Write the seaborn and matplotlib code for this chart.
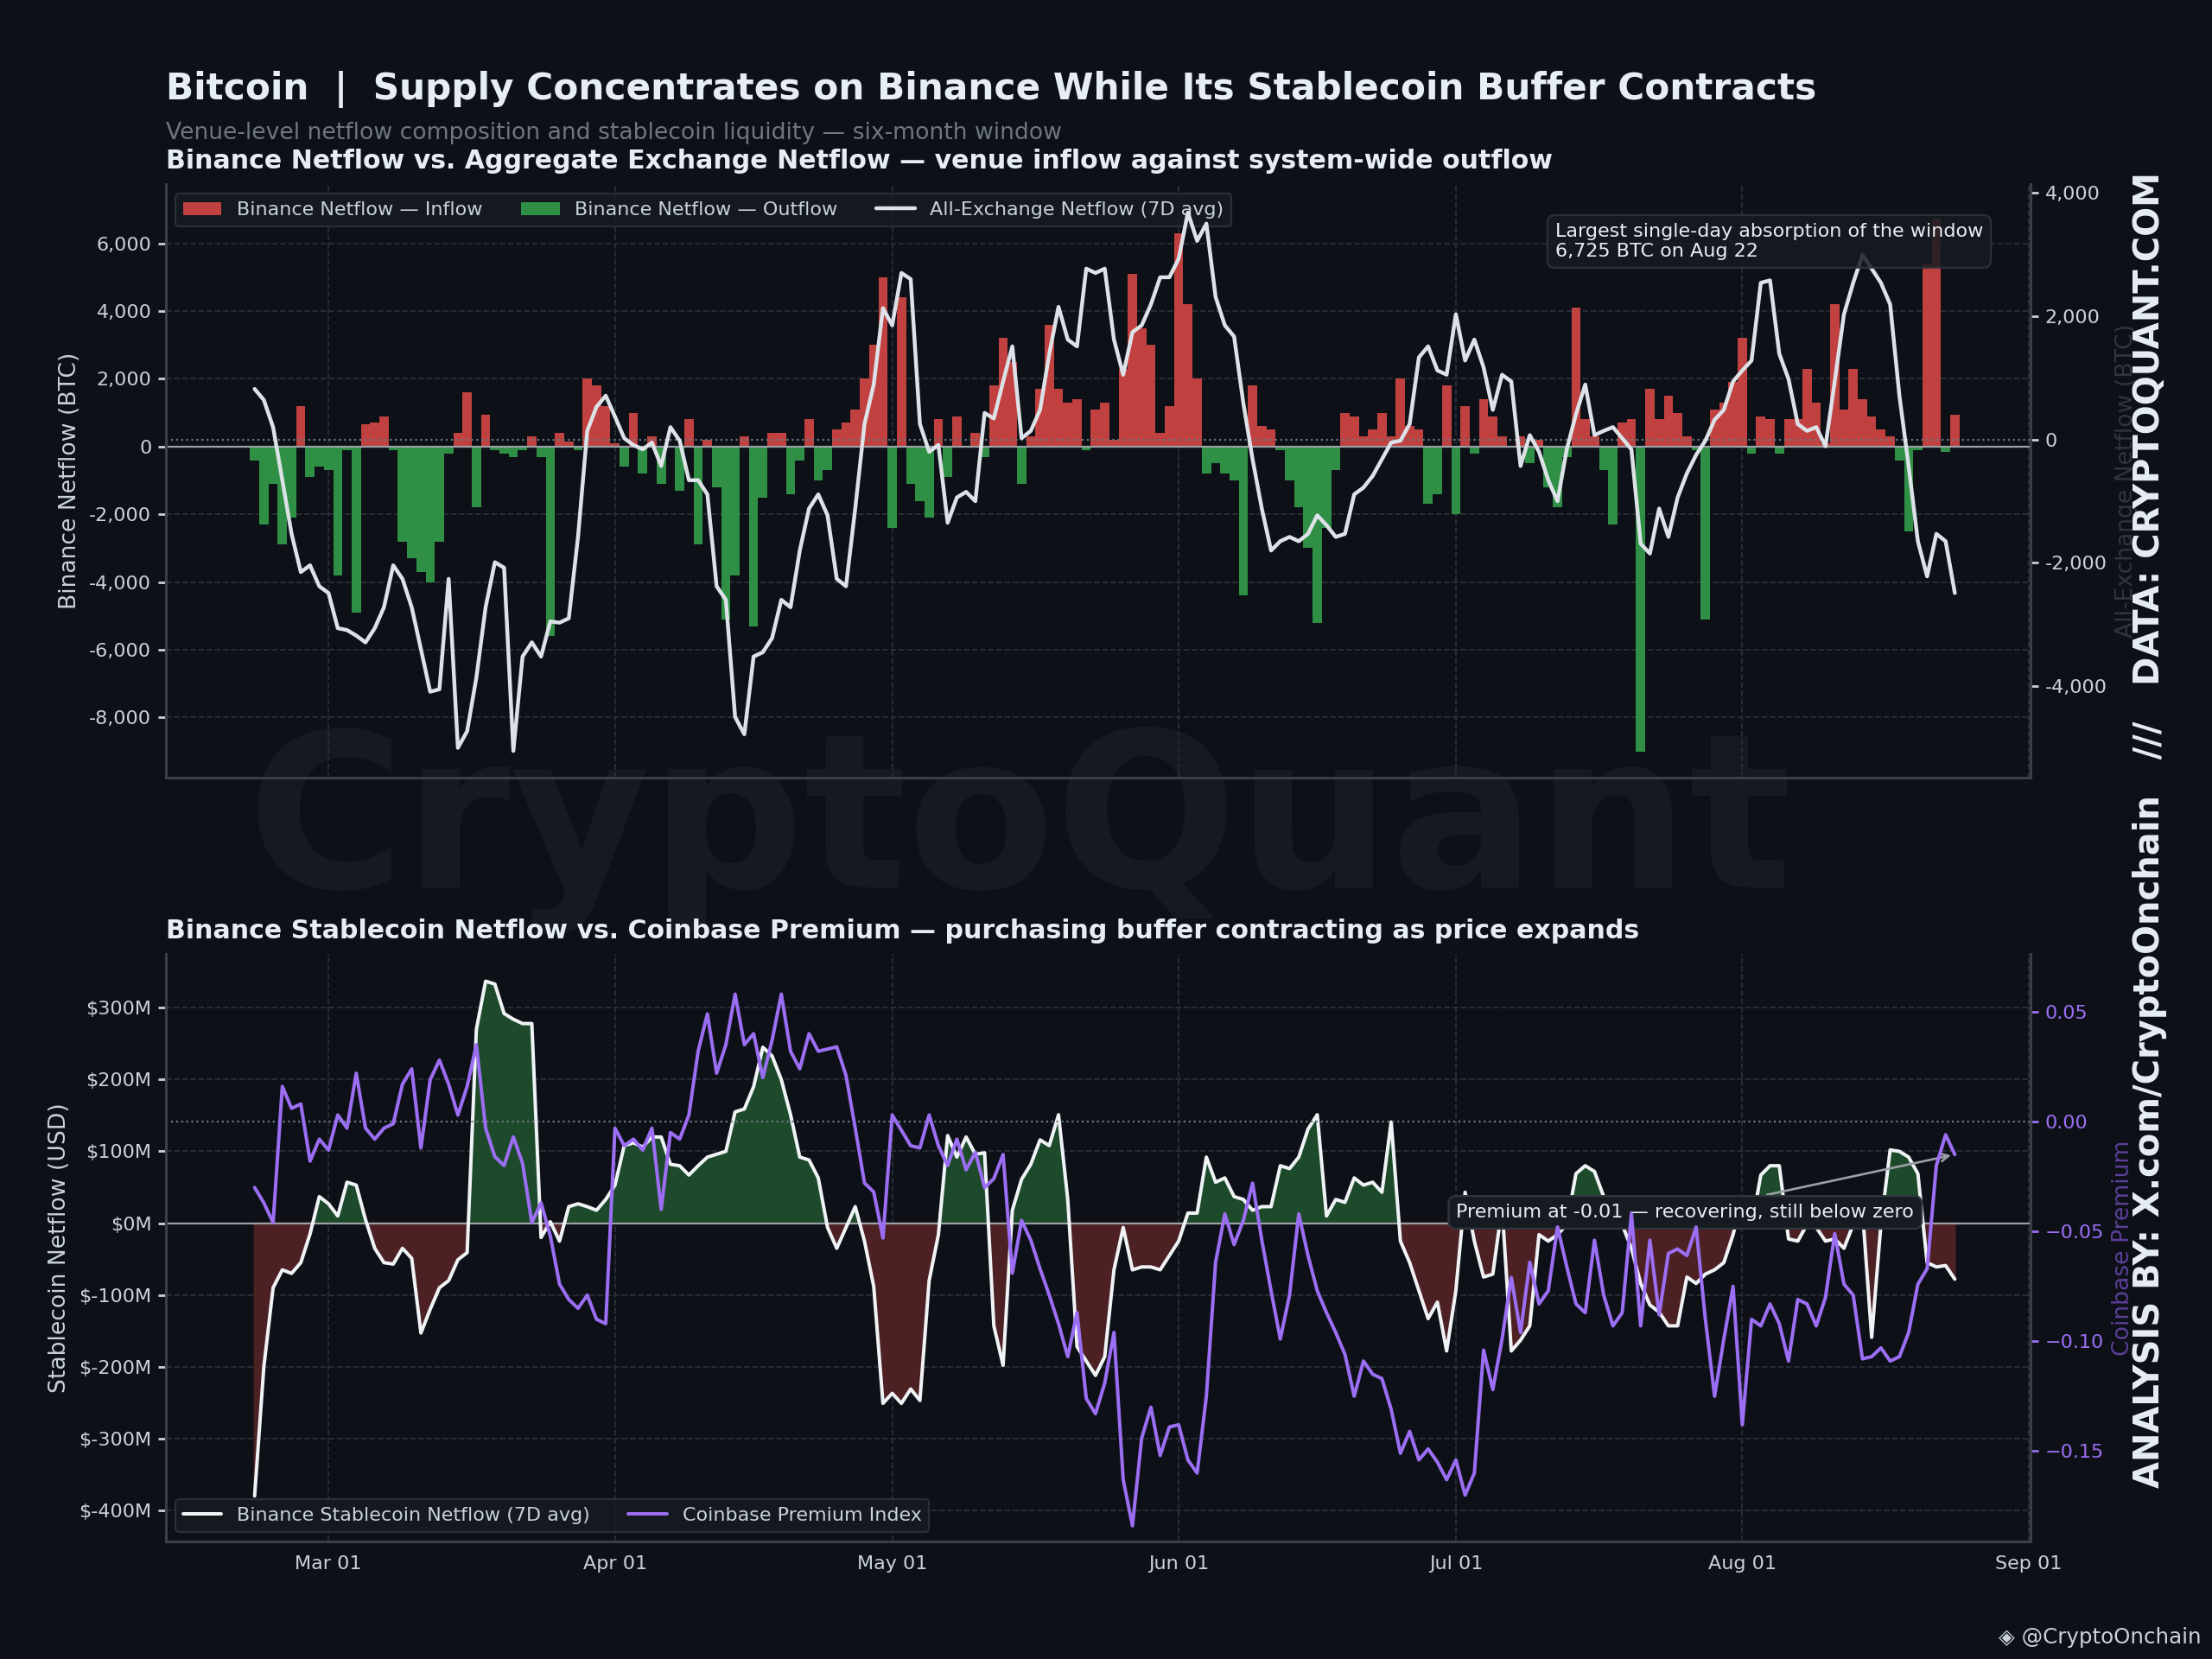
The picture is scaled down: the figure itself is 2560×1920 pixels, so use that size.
import numpy as np, pandas as pd, matplotlib
matplotlib.use("Agg")
import matplotlib.pyplot as plt, matplotlib.dates as mdates
import seaborn as sns

binance_netflow = [-400,-2300,-1100,-2900,-2100,1200,-900,-600,-700,-3800,-100,-4900,650,700,900,-100,-2800,-3300,-3700,-4000,
 -2800,-200,400,1600,-1800,950,-100,-200,-300,-100,300,-300,-5600,400,150,-100,2000,1800,1200,100,
 -600,1000,-800,300,-1100,0,-1300,800,-2900,200,-1200,-5100,-3800,300,-5300,-1500,400,400,-1400,-400,
 800,-1000,-700,500,700,1100,2000,3000,5000,-2400,4400,-1100,-1600,-2100,800,-900,900,0,400,-300,
 1800,3200,2500,-1100,300,1700,3600,1700,1300,1400,-100,1100,1300,200,2300,5100,3500,3000,400,1200,
 6300,4200,2000,-800,-500,-800,-1000,-4400,1800,600,500,-100,-1000,-1800,-3000,-5200,-2400,-700,1000,900,
 300,500,1000,300,2000,600,500,-1700,-1400,1800,-2000,1200,-200,1400,900,300,0,300,-500,200,
 -1200,-1800,-300,4100,800,300,-700,-2300,700,800,-9000,1700,800,1500,1000,300,-100,-5100,1100,1300,
 1900,3200,-200,900,800,-200,800,800,2300,1300,100,4200,1100,2300,1400,900,500,300,-400,-2500,
 -100,5400,6725,-150,950]
all_exchange_7d = [820,640,200,-660,-1530,-2150,-2040,-2380,-2490,-3060,-3090,-3180,-3290,-3060,-2720,-2040,-2260,-2720,-3400,-4090,
 -4050,-2260,-5000,-4730,-3860,-2720,-1990,-2080,-5050,-3520,-3290,-3520,-2950,-2970,-2900,-1580,140,530,710,370,
 20,-90,-160,-50,-430,200,-20,-660,-660,-890,-2380,-2600,-4500,-4780,-3520,-3450,-3220,-2600,-2720,-1800,
 -1120,-890,-1230,-2260,-2380,-1120,250,890,2130,1850,2700,2600,250,-200,-90,-1350,-940,-850,-1000,430,
 340,940,1510,20,140,480,1390,2150,1620,1510,2770,2700,2770,1620,1050,1740,1850,2190,2630,2630,
 2930,3680,3220,3500,2310,1850,1670,590,-320,-1120,-1800,-1650,-1580,-1650,-1530,-1230,-1390,-1580,-1530,-890,
 -780,-590,-320,-50,-20,250,1330,1510,1120,1050,2030,1280,1620,1170,480,1050,940,-430,70,-200,
 -660,-1000,-160,410,890,70,140,200,20,-160,-1690,-1850,-1120,-1580,-940,-550,-250,-20,320,480,
 940,1120,1280,2540,2580,1390,980,250,140,200,-110,940,2030,2540,2990,2770,2540,2190,710,-430,
 -1650,-2220,-1530,-1650,-2490]
stablecoin_7d = [-380,-200,-90,-65,-70,-55,-15,37,27,10,57,53,5,-35,-55,-57,-35,-49,-153,-120,
 -90,-80,-51,-41,270,337,333,292,284,278,278,-20,2,-25,23,27,23,18,33,53,
 108,112,106,120,120,82,80,67,80,92,96,100,155,159,190,245,233,200,151,92,
 88,63,-6,-35,-6,23,-25,-88,-251,-237,-251,-231,-247,-80,-16,122,92,120,96,98,
 -143,-198,18,61,82,116,108,151,33,-172,-192,-212,-186,-65,-6,-65,-61,-61,-65,-45,
 -25,14,14,92,57,63,37,33,18,23,23,80,76,92,131,151,10,33,29,63,
 53,57,43,141,-25,-55,-94,-133,-110,-178,-94,43,-25,-75,-71,23,-178,-163,-143,-16,
 -25,-16,-2,69,80,72,37,22,-2,-35,-84,-114,-124,-143,-143,-75,-84,-71,-65,-55,
 -16,33,-6,67,80,80,-22,-25,-2,-6,-25,-22,-35,-2,18,-159,-2,102,100,92,
 69,-55,-61,-59,-78]
coinbase_premium = [-0.030,-0.037,-0.046,0.016,0.006,0.008,-0.018,-0.008,-0.013,0.003,-0.003,0.022,-0.003,-0.008,-0.003,-0.001,0.017,0.024,-0.012,0.019,
 0.028,0.017,0.003,0.016,0.035,-0.003,-0.016,-0.020,-0.007,-0.019,-0.046,-0.037,-0.052,-0.074,-0.081,-0.085,-0.079,-0.090,-0.092,-0.003,
 -0.011,-0.008,-0.013,-0.003,-0.040,-0.005,-0.008,0.003,0.032,0.049,0.022,0.035,0.058,0.035,0.040,0.020,0.037,0.058,0.032,0.024,
 0.040,0.032,0.033,0.034,0.021,-0.003,-0.028,-0.032,-0.053,0.003,-0.004,-0.011,-0.012,0.003,-0.011,-0.020,-0.008,-0.022,-0.014,-0.030,
 -0.026,-0.015,-0.069,-0.045,-0.054,-0.067,-0.079,-0.092,-0.107,-0.087,-0.126,-0.133,-0.119,-0.096,-0.163,-0.184,-0.144,-0.130,-0.152,-0.139,
 -0.138,-0.154,-0.160,-0.125,-0.064,-0.042,-0.056,-0.045,-0.028,-0.054,-0.077,-0.099,-0.079,-0.042,-0.061,-0.077,-0.087,-0.096,-0.106,-0.125,
 -0.109,-0.115,-0.117,-0.131,-0.151,-0.141,-0.154,-0.149,-0.155,-0.163,-0.154,-0.170,-0.160,-0.104,-0.122,-0.099,-0.071,-0.096,-0.064,-0.083,
 -0.077,-0.048,-0.066,-0.083,-0.087,-0.054,-0.079,-0.093,-0.087,-0.042,-0.093,-0.054,-0.088,-0.060,-0.058,-0.061,-0.048,-0.090,-0.125,-0.099,
 -0.075,-0.138,-0.090,-0.093,-0.083,-0.092,-0.109,-0.081,-0.083,-0.093,-0.080,-0.051,-0.074,-0.079,-0.108,-0.107,-0.103,-0.109,-0.107,-0.096,
 -0.074,-0.067,-0.020,-0.006,-0.015]

N = min(len(binance_netflow), len(all_exchange_7d), len(stablecoin_7d), len(coinbase_premium))
dates = pd.date_range("2025-02-21", periods=N, freq="D")
df = pd.DataFrame({"date": dates, "binance": binance_netflow[:N], "allx": all_exchange_7d[:N],
                   "stable": stablecoin_7d[:N], "prem": coinbase_premium[:N]})

BG = "#0d1117"; FG = "#e6edf3"; GRID = "#2a2f38"
RED = "#c0413f"; GREEN = "#2f8f45"; PURPLE = "#9b6ef3"
sns.set_theme(style="dark")
plt.rcParams.update({"figure.facecolor": BG, "axes.facecolor": "none", "text.color": FG,
                     "axes.labelcolor": "#c9d1d9", "xtick.color": "#c9d1d9", "ytick.color": "#c9d1d9",
                     "axes.edgecolor": "#3a3f48"})
plt.rcParams["font.family"] = ["DejaVu Sans"]

fig = plt.figure(figsize=(16, 12), dpi=160)
fig.text(0.461, 0.50, "CryptoQuant", fontsize=112, fontweight="bold", color="#151a21",
         ha="center", va="center", zorder=-5)
ax1 = fig.add_axes([0.075, 0.531, 0.843, 0.358])
ax3 = fig.add_axes([0.075, 0.071, 0.843, 0.354])
xmin = dates[0] - pd.Timedelta(days=9.6); xmax = dates[0] + pd.Timedelta(days=192.2)

# top panel
inflow = df["binance"].where(df["binance"] > 0, 0)
outflow = df["binance"].where(df["binance"] < 0, 0)
ax1.bar(df["date"], inflow, width=1.0, color=RED, linewidth=0, label="Binance Netflow — Inflow", zorder=2)
ax1.bar(df["date"], outflow, width=1.0, color=GREEN, linewidth=0, label="Binance Netflow — Outflow", zorder=2)
ax1.axhline(0, color="#9aa0a6", lw=1, zorder=3)
ax1.set_ylim(-9790, 7750); ax1.set_xlim(xmin, xmax)
ax1.set_yticks(range(-8000, 6001, 2000))
ax1.set_yticklabels([f"{v:,}" for v in range(-8000, 6001, 2000)])
ax1.set_ylabel("Binance Netflow (BTC)")
ax2 = ax1.twinx()
sns.lineplot(data=df, x="date", y="allx", ax=ax2, color="#dde2e8", lw=2, zorder=4,
             label="All-Exchange Netflow (7D avg)")
ax2.axhline(0, color="#6e7681", lw=1, ls=":")
ax2.set_ylim(-5490, 4140)
ax2.set_yticks([-4000, -2000, 0, 2000, 4000])
ax2.set_yticklabels(["-4,000", "-2,000", "0", "2,000", "4,000"])
ax2.set_ylabel("All-Exchange Netflow (BTC)", color="#30363d")
ax2.set_xlabel("")
ax2.legend_.remove()
ax2.annotate("Largest single-day absorption of the window\n6,725 BTC on Aug 22",
             xy=(0.745, 0.935), xycoords="axes fraction", fontsize=10, color=FG, va="top", zorder=6,
             bbox=dict(boxstyle="round,pad=0.4", fc="#161b22", ec="#30363d", alpha=0.85))
h1, l1 = ax1.get_legend_handles_labels(); h2, l2 = ax2.get_legend_handles_labels()
ax1.legend(h1 + h2, l1 + l2, loc="upper left", ncol=3, frameon=True, facecolor="#161b22",
           edgecolor="#30363d", labelcolor="#c9d1d9", fontsize=10)
ax1.set_title("Binance Netflow vs. Aggregate Exchange Netflow — venue inflow against system-wide outflow",
              loc="left", fontsize=13.5, fontweight="bold", color=FG, pad=8)

# bottom panel
ax3.fill_between(df["date"], df["stable"], 0, where=df["stable"] >= 0, color="#1d4a2a", interpolate=True, zorder=1)
ax3.fill_between(df["date"], df["stable"], 0, where=df["stable"] <= 0, color="#4d2124", interpolate=True, zorder=1)
sns.lineplot(data=df, x="date", y="stable", ax=ax3, color="#f0f3f6", lw=1.8, zorder=3,
             label="Binance Stablecoin Netflow (7D avg)")
ax3.axhline(0, color="#9aa0a6", lw=1, zorder=2)
ax3.set_ylim(-443, 375); ax3.set_xlim(xmin, xmax)
ax3.set_yticks(range(-400, 301, 100))
ax3.set_yticklabels([f"${v}M" for v in range(-400, 301, 100)])
ax3.set_ylabel("Stablecoin Netflow (USD)"); ax3.set_xlabel("")
ax4 = ax3.twinx()
sns.lineplot(data=df, x="date", y="prem", ax=ax4, color=PURPLE, lw=1.8, zorder=4,
             label="Coinbase Premium Index")
ax4.axhline(0, color="#6e7681", lw=1, ls=":")
ax4.set_ylim(-0.191, 0.0763)
ax4.set_yticks([-0.15, -0.10, -0.05, 0.0, 0.05])
ax4.set_yticklabels(["−0.15", "−0.10", "−0.05", "0.00", "0.05"])
ax4.tick_params(axis="y", colors=PURPLE)
ax4.set_ylabel("Coinbase Premium", color="#5b3f99"); ax4.set_xlabel("")
ax4.legend_.remove()
h3, l3 = ax3.get_legend_handles_labels(); h4, l4 = ax4.get_legend_handles_labels()
ax3.legend(h3 + h4, l3 + l4, loc="lower left", ncol=2, frameon=True, facecolor="#161b22",
           edgecolor="#30363d", labelcolor="#c9d1d9", fontsize=10)
ax4.annotate("Premium at -0.01 — recovering, still below zero", xy=(df["date"].iloc[-1], df["prem"].iloc[-1]),
             xytext=(0.692, 0.56), textcoords="axes fraction", fontsize=10, color=FG, va="center",
             bbox=dict(boxstyle="round,pad=0.4", fc="#161b22", ec="#30363d"),
             arrowprops=dict(arrowstyle="->", color="#9aa0a6", lw=1.2))
ax3.set_title("Binance Stablecoin Netflow vs. Coinbase Premium — purchasing buffer contracting as price expands",
              loc="left", fontsize=13.5, fontweight="bold", color=FG, pad=8)

for a in (ax1, ax3):
    a.grid(True, color=GRID, ls="--", lw=0.8)
    a.xaxis.set_major_locator(mdates.MonthLocator())
    a.xaxis.set_major_formatter(mdates.DateFormatter("%b %d"))
    a.tick_params(axis="both", labelsize=10, length=4)
    a.spines["top"].set_visible(False)
ax1.tick_params(axis="x", labelbottom=False)
for a in (ax2, ax4):
    a.grid(False); a.spines["top"].set_visible(False); a.tick_params(labelsize=10, length=4)

fig.text(0.075, 0.946, "Bitcoin  |  Supply Concentrates on Binance While Its Stablecoin Buffer Contracts",
         fontsize=19, fontweight="bold", color=FG, ha="left", va="center")
fig.text(0.075, 0.920, "Venue-level netflow composition and stablecoin liquidity — six-month window",
         fontsize=12, color="#6e7681", ha="left", va="center")
fig.text(0.972, 0.50, "ANALYSIS BY: X.com/CryptoOnchain   ///   DATA: CRYPTOQUANT.COM", rotation=90,
         fontsize=18, fontweight="bold", color="#e6edf3", ha="center", va="center")
fig.text(0.995, 0.013, "◈ @CryptoOnchain", fontsize=11, color="#c9d1d9", ha="right", va="center")
fig.savefig("out.png", dpi=160, facecolor=BG)
